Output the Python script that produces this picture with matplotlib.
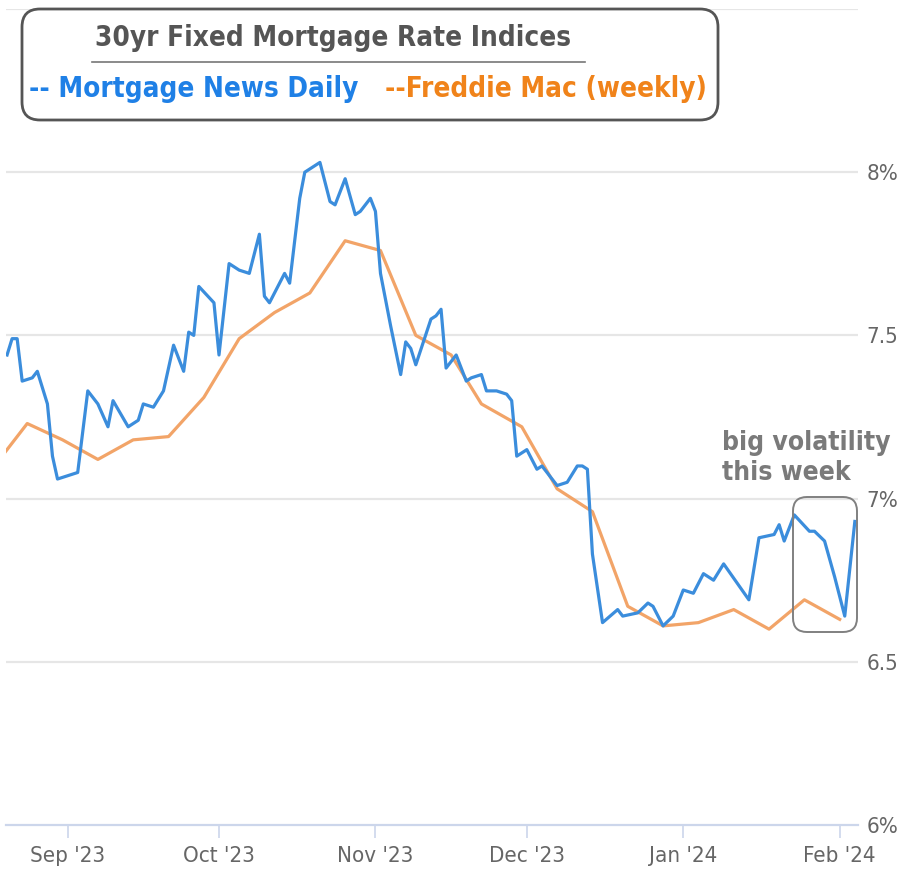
import datetime as dt
import matplotlib
matplotlib.use("Agg")
import matplotlib.pyplot as plt
from matplotlib.patches import FancyBboxPatch

# Mortgage News Daily index (daily)
mnd_dates = [
    "2023-08-20", "2023-08-21", "2023-08-22", "2023-08-23", "2023-08-25", "2023-08-26",
    "2023-08-28", "2023-08-29", "2023-08-30", "2023-09-01", "2023-09-03", "2023-09-05",
    "2023-09-07", "2023-09-09", "2023-09-10", "2023-09-13", "2023-09-15", "2023-09-16",
    "2023-09-18", "2023-09-20", "2023-09-22", "2023-09-24", "2023-09-25", "2023-09-26",
    "2023-09-27", "2023-09-30", "2023-10-01", "2023-10-03", "2023-10-05", "2023-10-07",
    "2023-10-09", "2023-10-10", "2023-10-11", "2023-10-14", "2023-10-15", "2023-10-17",
    "2023-10-18", "2023-10-21", "2023-10-23", "2023-10-24", "2023-10-26", "2023-10-28",
    "2023-10-29", "2023-10-31", "2023-11-01", "2023-11-02", "2023-11-04", "2023-11-06",
    "2023-11-07", "2023-11-08", "2023-11-09", "2023-11-12", "2023-11-13", "2023-11-14",
    "2023-11-15", "2023-11-17", "2023-11-19", "2023-11-20", "2023-11-22", "2023-11-23",
    "2023-11-25", "2023-11-27", "2023-11-28", "2023-11-29", "2023-12-01", "2023-12-03",
    "2023-12-04", "2023-12-07", "2023-12-09", "2023-12-11", "2023-12-12", "2023-12-13",
    "2023-12-14", "2023-12-16", "2023-12-19", "2023-12-20", "2023-12-23", "2023-12-25",
    "2023-12-26", "2023-12-28", "2023-12-30", "2024-01-01", "2024-01-03", "2024-01-05",
    "2024-01-07", "2024-01-09", "2024-01-14", "2024-01-16", "2024-01-19", "2024-01-20",
    "2024-01-21", "2024-01-23", "2024-01-26", "2024-01-27", "2024-01-29", "2024-01-31",
    "2024-02-02", "2024-02-04",
]
mnd_rates = [
    7.44, 7.49, 7.49, 7.36, 7.37, 7.39,
    7.29, 7.13, 7.06, 7.07, 7.08, 7.33,
    7.29, 7.22, 7.30, 7.22, 7.24, 7.29,
    7.28, 7.33, 7.47, 7.39, 7.51, 7.50,
    7.65, 7.60, 7.44, 7.72, 7.70, 7.69,
    7.81, 7.62, 7.60, 7.69, 7.66, 7.92,
    8.00, 8.03, 7.91, 7.90, 7.98, 7.87,
    7.88, 7.92, 7.88, 7.69, 7.53, 7.38,
    7.48, 7.46, 7.41, 7.55, 7.56, 7.58,
    7.40, 7.44, 7.36, 7.37, 7.38, 7.33,
    7.33, 7.32, 7.30, 7.13, 7.15, 7.09,
    7.10, 7.04, 7.05, 7.10, 7.10, 7.09,
    6.83, 6.62, 6.66, 6.64, 6.65, 6.68,
    6.67, 6.61, 6.64, 6.72, 6.71, 6.77,
    6.75, 6.80, 6.69, 6.88, 6.89, 6.92,
    6.87, 6.95, 6.90, 6.90, 6.87, 6.76,
    6.64, 6.93,
]

# Freddie Mac weekly survey
fm_dates = [
    "2023-08-17", "2023-08-24", "2023-08-31", "2023-09-07", "2023-09-14", "2023-09-21",
    "2023-09-28", "2023-10-05", "2023-10-12", "2023-10-19", "2023-10-26", "2023-11-02",
    "2023-11-09", "2023-11-16", "2023-11-22", "2023-11-30", "2023-12-07", "2023-12-14",
    "2023-12-21", "2023-12-28", "2024-01-04", "2024-01-11", "2024-01-18", "2024-01-25",
    "2024-02-01",
]
fm_rates = [
    7.09, 7.23, 7.18, 7.12, 7.18, 7.19,
    7.31, 7.49, 7.57, 7.63, 7.79, 7.76,
    7.50, 7.44, 7.29, 7.22, 7.03, 6.96,
    6.67, 6.61, 6.62, 6.66, 6.60, 6.69,
    6.63,
]

y_ticks = [6.0, 6.5, 7.0, 7.5, 8.0]
y_labels = ["6%", "6.5", "7%", "7.5", "8%"]
month_ticks = ["2023-09-01", "2023-10-01", "2023-11-01", "2023-12-01", "2024-01-01", "2024-02-01"]
month_labels = ["Sep '23", "Oct '23", "Nov '23", "Dec '23", "Jan '24", "Feb '24"]

fnt = dict(family="DejaVu Sans", fontstretch="condensed")
blue = "#3b8ddc"
orange = "#f2a468"

to_dt = lambda s: dt.datetime.strptime(s, "%Y-%m-%d")

fig = plt.figure(figsize=(9.06, 8.73), dpi=100)
ax = fig.add_axes([6 / 906, 48 / 873, 852 / 906, 816 / 873])

ax.plot([to_dt(d) for d in fm_dates], fm_rates, color=orange, lw=2.3, zorder=3,
        solid_joinstyle="round")
ax.plot([to_dt(d) for d in mnd_dates], mnd_rates, color=blue, lw=2.3, zorder=4,
        solid_joinstyle="round")

ax.set_xlim(dt.datetime(2023, 8, 19, 19), dt.datetime(2024, 2, 4, 15))
ax.set_ylim(6.0, 8.5)

for v in [6.5, 7.0, 7.5, 8.0, 8.5]:
    ax.axhline(v, color="#e6e6e6", lw=1.6, zorder=1)

for s in ["top", "left", "right"]:
    ax.spines[s].set_visible(False)
ax.spines["bottom"].set_color("#ccd6eb")
ax.spines["bottom"].set_linewidth(1.6)

ax.set_xticks([to_dt(d) for d in month_ticks])
ax.set_xticklabels(month_labels, fontsize=16, color="#666666", **fnt)
ax.tick_params(axis="x", length=9, width=1.2, color="#ccd6eb", pad=6)

ax.yaxis.tick_right()
ax.set_yticks(y_ticks)
ax.set_yticklabels(y_labels, fontsize=16, color="#666666", **fnt)
ax.tick_params(axis="y", length=0, pad=6)

# overlay in pixel coordinates for the title box and the note
ov = fig.add_axes([0, 0, 1, 1], facecolor="none")
ov.set_xlim(0, 906)
ov.set_ylim(873, 0)
ov.axis("off")

ov.add_patch(FancyBboxPatch((22, 9), 696, 111, boxstyle="round,pad=0,rounding_size=18",
                            fc="white", ec="#555555", lw=2))
ov.text(333, 38, "30yr Fixed Mortgage Rate Indices", ha="center", va="center",
        fontsize=20, fontweight="bold", color="#555555", **fnt)
ov.plot([92, 585], [62, 62], color="#777777", lw=1.2)
ov.text(194, 89, "-- Mortgage News Daily", ha="center", va="center",
        fontsize=20, fontweight="bold", color="#1f80e6", **fnt)
ov.text(546, 89, "--Freddie Mac (weekly)", ha="center", va="center",
        fontsize=20, fontweight="bold", color="#f0831a", **fnt)

ov.text(806, 458, "big volatility\nthis week", ha="center", va="center",
        fontsize=19, fontweight="bold", color="#7a7a7a", linespacing=1.25,
        multialignment="left", **fnt)
ov.add_patch(FancyBboxPatch((793, 497), 64, 135, boxstyle="round,pad=0,rounding_size=14",
                            fc="none", ec="#808080", lw=1.4, zorder=5))

fig.savefig("out.png", dpi=100)
